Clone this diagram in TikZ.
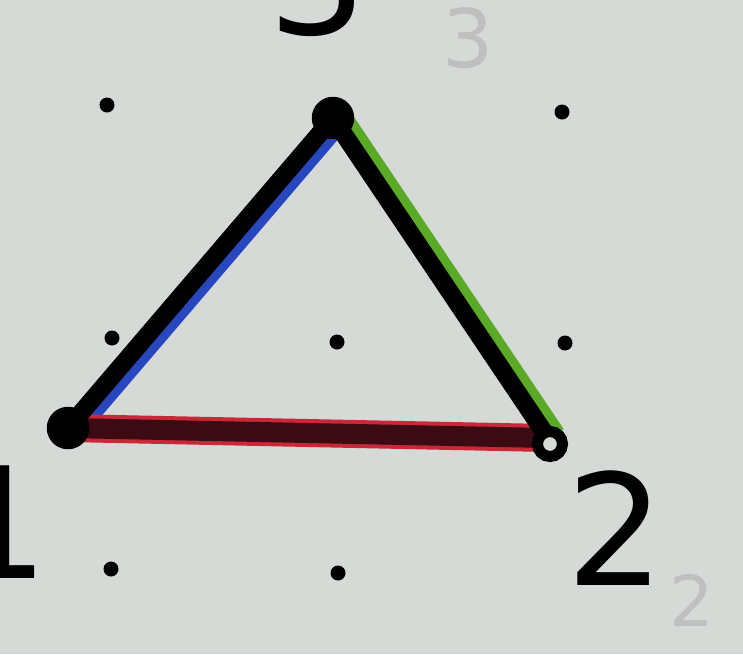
\documentclass[tikz,border=0pt]{standalone}
\usepackage{fontspec}
\setmainfont{DejaVu Sans}
\definecolor{paper}{RGB}{214,218,214}
\definecolor{penblue}{RGB}{40,70,190}
\definecolor{pengreen}{RGB}{90,170,40}
\definecolor{penred}{RGB}{200,40,55}
\definecolor{darkred}{RGB}{60,10,18}
\tikzset{
  griddot/.style={circle, fill=black, inner sep=0pt, minimum size=3mm},
  vertexblob/.style={circle, fill=black, inner sep=0pt, minimum size=8.5mm},
  numlabel/.style={font=\fontsize{88}{88}\selectfont},
  ghost/.style={text=black!25, font=\fontsize{46}{46}\selectfont}
}
\begin{document}
\begin{tikzpicture}[x=0.02cm,y=-0.02cm]
			\fill[paper] (0,0) rectangle (743,654);
			\useasboundingbox (0,0) rectangle (743,654);
			\node[griddot] (d11) at (107,105) {};
			\node[griddot] (d13) at (562,112) {};
			\node[griddot] (d21) at (112,338) {};
			\node[griddot] (d22) at (337,342) {};
			\node[griddot] (d23) at (565,343) {};
			\node[griddot] (d31) at (111,569) {};
			\node[griddot] (d32) at (338,573) {};
			\coordinate (v1) at (68,428);
			\coordinate (v2) at (548,438);
			\coordinate (v3) at (333,118);
			\draw[penblue, line width=0.42cm] ([shift={(6,4)}]v1) -- ([shift={(6,4)}]v3);
			\draw[pengreen, line width=0.42cm] ([shift={(7,-3)}]v3) -- ([shift={(7,-3)}]v2);
			\draw[penred, line width=0.56cm] (v1) -- (v2);
			\draw[darkred, line width=0.4cm] (v1) -- (v2);
			\draw[black, line width=0.36cm, line cap=round] (v1) -- (v3);
			\draw[black, line width=0.36cm, line cap=round] (v3) -- (v2);
			\node[vertexblob] (n3) at (v3) {};
			\node[vertexblob] (n1) at (v1) {};
			\node[circle, draw=black, line width=0.22cm, fill=paper, minimum size=5mm] (n2) at ([shift={(2,6)}]v2) {};
			\node[numlabel] (l3) at (318,-22) {3};
			\node[numlabel] (l1) at (0,522) {1};
			\node[numlabel] (l2) at (616,528) {2};
			\node[ghost] (g3) at (468,38) {3};
			\node[ghost, font=\fontsize{40}{40}\selectfont] (g2) at (692,600) {2};
		\end{tikzpicture}
\end{document}
